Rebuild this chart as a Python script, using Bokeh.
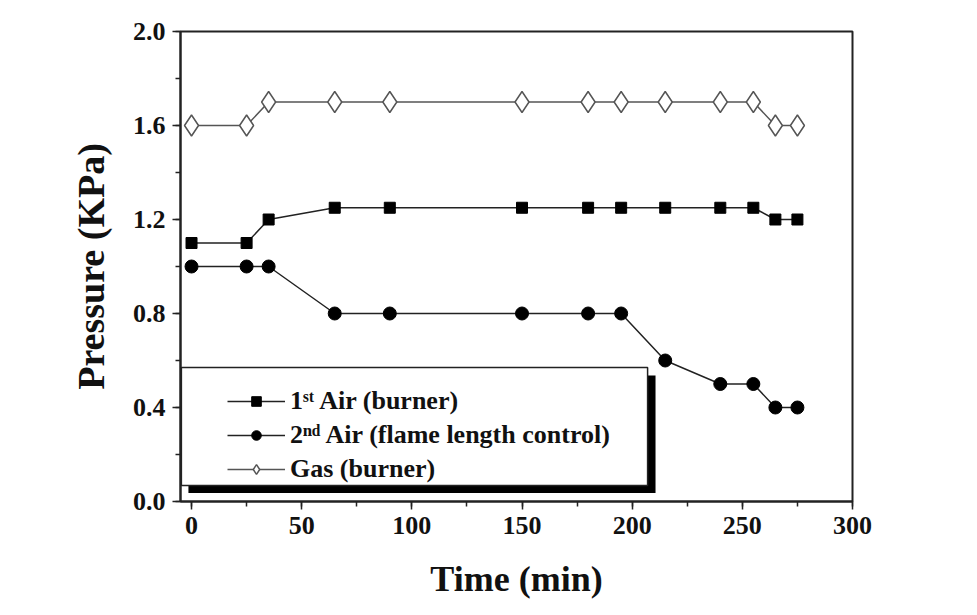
from bokeh.plotting import figure
from bokeh.models import (Range1d, SingleIntervalTicker, NumeralTickFormatter,
                          Legend, LegendItem, BoxAnnotation)
from bokeh.embed import file_html
from bokeh.resources import INLINE

# ---- data ----
time_min = [0, 25, 35, 65, 90, 150, 180, 195, 215, 240, 255, 265, 275]
air1 = [1.10, 1.10, 1.20, 1.25, 1.25, 1.25, 1.25, 1.25, 1.25, 1.25, 1.25, 1.20, 1.20]
air2 = [1.00, 1.00, 1.00, 0.80, 0.80, 0.80, 0.80, 0.80, 0.60, 0.50, 0.50, 0.40, 0.40]
gas = [1.60, 1.60, 1.70, 1.70, 1.70, 1.70, 1.70, 1.70, 1.70, 1.70, 1.70, 1.60, 1.60]
labels = ["1\u02e2\u1d57 Air (burner)",
          "2\u207f\u1d48 Air (flame length control)",
          "Gas (burner)"]

FONT = "Times New Roman"

p = figure(frame_width=672, frame_height=470,
           x_range=Range1d(-5, 300), y_range=Range1d(0, 2.0),
           output_backend="svg", toolbar_location=None,
           min_border_left=180, min_border_top=31,
           min_border_right=105, min_border_bottom=98)

p.xgrid.visible = False
p.ygrid.visible = False
p.outline_line_color = "#222222"
p.outline_line_width = 2
p.outline_line_alpha = 1

p.xaxis.ticker = SingleIntervalTicker(interval=50, num_minor_ticks=2)
p.yaxis.ticker = SingleIntervalTicker(interval=0.4, num_minor_ticks=2)
p.yaxis.formatter = NumeralTickFormatter(format="0.0")
p.xaxis.axis_label = "Time (min)"
p.yaxis.axis_label = "Pressure (KPa)"
for ax in (p.xaxis, p.yaxis):
    ax.axis_line_width = 2
    ax.axis_line_color = "#222222"
    ax.major_tick_in = 0
    ax.major_tick_out = 8
    ax.minor_tick_in = 0
    ax.minor_tick_out = 5
    ax.major_tick_line_width = 1.5
    ax.minor_tick_line_width = 1.5
    ax.major_tick_line_color = "#222222"
    ax.minor_tick_line_color = "#222222"
    ax.major_label_text_font = FONT
    ax.major_label_text_font_style = "bold"
    ax.major_label_text_font_size = "26px"
    ax.major_label_text_color = "#111111"
    ax.axis_label_text_font = FONT
    ax.axis_label_text_font_style = "bold"
    ax.axis_label_text_color = "#111111"
p.xaxis.axis_label_text_font_size = "36px"
p.yaxis.axis_label_text_font_size = "38px"
p.xaxis.major_label_standoff = 7
p.xaxis.axis_label_standoff = 22
p.yaxis.major_label_standoff = 7
p.yaxis.axis_label_standoff = 18

# ---- series ----
l1 = p.line(time_min, air1, line_color="#222222", line_width=1.5)
s1 = p.scatter(time_min, air1, marker="square", size=11,
               fill_color="black", line_color="black")
l2 = p.line(time_min, air2, line_color="#222222", line_width=1.5)
s2 = p.scatter(time_min, air2, marker="circle", size=13,
               fill_color="black", line_color="black")
l3 = p.line(time_min, gas, line_color="#555555", line_width=1.5)
s3 = p.scatter(time_min, gas, marker="diamond", size=21,
               fill_color="white", line_color="#555555", line_width=1.5)

# ---- legend box with drop shadow ----
shadow = BoxAnnotation(left=-1.4, right=210.6, bottom=0.036, top=0.536,
                       fill_color="black", fill_alpha=1, line_alpha=0)
box = BoxAnnotation(left=-4.6, right=207, bottom=0.068, top=0.570,
                    fill_color="white", fill_alpha=1,
                    line_color="#222222", line_width=1.5, line_alpha=1)
p.add_layout(shadow)
p.add_layout(box)

legend = Legend(items=[LegendItem(label=labels[0], renderers=[l1, s1]),
                       LegendItem(label=labels[1], renderers=[l2, s2]),
                       LegendItem(label=labels[2], renderers=[l3, s3])],
                location=(47, 17), orientation="vertical",
                background_fill_alpha=0, border_line_alpha=0,
                padding=0, margin=0, spacing=4,
                glyph_width=58, glyph_height=24, label_standoff=5,
                label_text_font=FONT, label_text_font_style="bold",
                label_text_font_size="26px", label_text_color="#111111")
p.add_layout(legend, "center")

open("out.html", "w").write(file_html(p, INLINE))
